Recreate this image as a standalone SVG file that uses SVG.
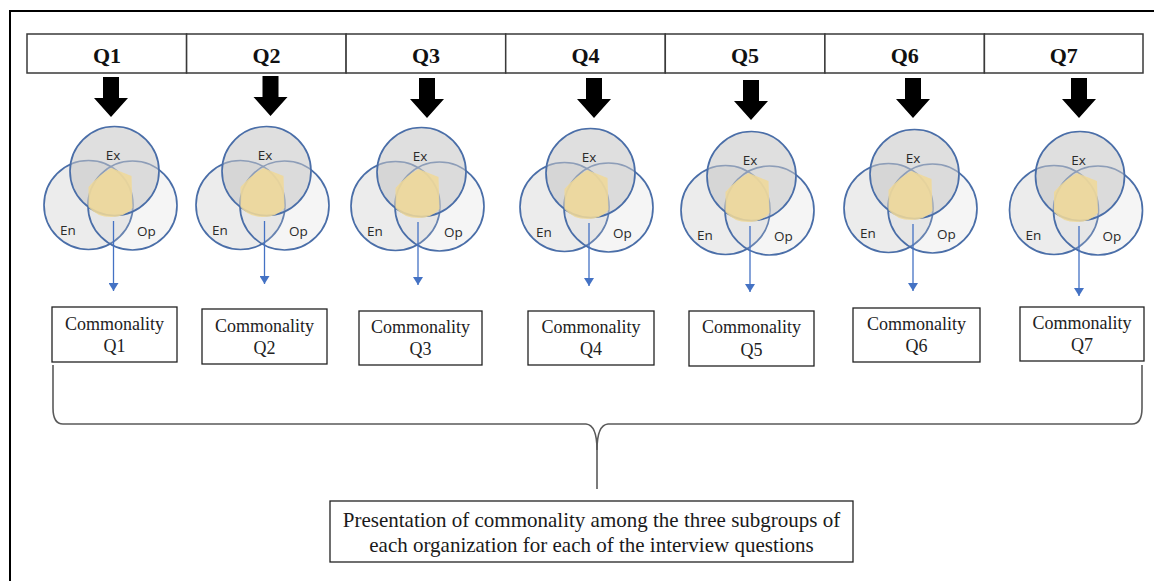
<svg xmlns="http://www.w3.org/2000/svg" xmlns:xlink="http://www.w3.org/1999/xlink" width="1154" height="581" viewBox="0 0 1154 581">
  <style>
    .frame { fill: none; stroke: #000; stroke-width: 2; }
    .cell { fill: #fff; stroke: #3a3a3a; stroke-width: 1.5; }
    .qlabel { font-family: "Liberation Serif", "Times New Roman", serif; font-size: 22px; font-weight: bold; fill: #111; text-anchor: middle; }
    .box { fill: #fff; stroke: #222; stroke-width: 1.3; }
    .boxtext { font-family: "Liberation Serif", "Times New Roman", serif; font-size: 18px; fill: #222; text-anchor: middle; }
    .sumtext { font-family: "Liberation Serif", "Times New Roman", serif; font-size: 21px; fill: #1a1a1a; text-anchor: middle; }
    .vlabel { font-family: "Open Sans", "Liberation Sans", Arial, sans-serif; font-size: 13.5px; fill: #2a2a2a; text-anchor: middle; }
    .set { stroke: #4a6ea8; stroke-width: 1.7; }
    .block { fill: #000; }
    .flow { fill: none; stroke: #4472c4; stroke-width: 1.3; }
    .brace { fill: none; stroke: #5a5a5a; stroke-width: 1.6; }
  </style>
  <defs>
    <!-- Three-set Venn, origin at the centre of the top (Ex) circle -->
    <g id="venn">
      <circle class="set" cx="-26" cy="34" r="44.5" fill="#d4d4d4" fill-opacity="0.45"/>
      <circle class="set" cx="18" cy="34.5" r="44.5" fill="#d0d0d0" fill-opacity="0.22"/>
      <circle class="set" cx="0" cy="0" r="44.5" fill="#c4c4c4" fill-opacity="0.55"/>
      <path d="M-3,-3 L17,5 L18,37 Q10,46 -3,46 Q-18,46 -26,36 L-26,16 Q-16,4 -3,-3 Z" fill="#efd899" fill-opacity="0.88"/>
      <text class="vlabel" x="-1.5" y="-11">Ex</text>
      <text class="vlabel" x="-46.5" y="64">En</text>
      <text class="vlabel" x="32" y="65">Op</text>
    </g>
    <marker id="tip" viewBox="0 0 8 10" refX="8" refY="5" markerWidth="8" markerHeight="10" markerUnits="userSpaceOnUse" orient="auto">
      <path d="M0,0 L8,5 L0,10 Z" fill="#4472c4"/>
    </marker>
  </defs>

  <rect x="0" y="0" width="1154" height="581" fill="#fff"/>

  <!-- page frame -->
  <path class="frame" d="M10,581 L10,11 L1154,11"/>

  <!-- question header row -->
  <g id="header">
    <g id="q1"><rect class="cell" x="27" y="34" width="159.6" height="39"/><text class="qlabel" x="107" y="63">Q1</text></g>
    <g id="q2"><rect class="cell" x="186.6" y="34" width="159.5" height="39"/><text class="qlabel" x="266.5" y="63">Q2</text></g>
    <g id="q3"><rect class="cell" x="346.1" y="34" width="159.6" height="39"/><text class="qlabel" x="426" y="63">Q3</text></g>
    <g id="q4"><rect class="cell" x="505.7" y="34" width="159.6" height="39"/><text class="qlabel" x="585.5" y="63">Q4</text></g>
    <g id="q5"><rect class="cell" x="665.3" y="34" width="159.6" height="39"/><text class="qlabel" x="745" y="63">Q5</text></g>
    <g id="q6"><rect class="cell" x="824.9" y="34" width="159.5" height="39"/><text class="qlabel" x="904.7" y="63">Q6</text></g>
    <g id="q7"><rect class="cell" x="984.4" y="34" width="158.6" height="39"/><text class="qlabel" x="1063.7" y="63">Q7</text></g>
  </g>

  <!-- Venn diagrams per question -->
  <g id="venn-q1"><use xlink:href="#venn" href="#venn" transform="translate(114.5,171)"/></g>
  <g id="venn-q2"><use xlink:href="#venn" href="#venn" transform="translate(266.5,171)"/></g>
  <g id="venn-q3"><use xlink:href="#venn" href="#venn" transform="translate(421.5,172)"/></g>
  <g id="venn-q4"><use xlink:href="#venn" href="#venn" transform="translate(590.5,173)"/></g>
  <g id="venn-q5"><use xlink:href="#venn" href="#venn" transform="translate(751.5,176)"/></g>
  <g id="venn-q6"><use xlink:href="#venn" href="#venn" transform="translate(914.5,174)"/></g>
  <g id="venn-q7"><use xlink:href="#venn" href="#venn" transform="translate(1080,176)"/></g>

  <!-- commonality boxes -->
  <g id="common-q1"><rect class="box" x="52" y="307" width="125" height="55"/><text class="boxtext" x="114.5" y="330">Commonality</text><text class="boxtext" x="114.5" y="352">Q1</text></g>
  <g id="common-q2"><rect class="box" x="202" y="309" width="125" height="55"/><text class="boxtext" x="264.5" y="332">Commonality</text><text class="boxtext" x="264.5" y="354">Q2</text></g>
  <g id="common-q3"><rect class="box" x="359" y="311" width="123" height="54"/><text class="boxtext" x="420.5" y="333">Commonality</text><text class="boxtext" x="420.5" y="355">Q3</text></g>
  <g id="common-q4"><rect class="box" x="528" y="311" width="126" height="54"/><text class="boxtext" x="591" y="333">Commonality</text><text class="boxtext" x="591" y="355">Q4</text></g>
  <g id="common-q5"><rect class="box" x="689" y="311" width="125" height="55"/><text class="boxtext" x="751.5" y="333">Commonality</text><text class="boxtext" x="751.5" y="356">Q5</text></g>
  <g id="common-q6"><rect class="box" x="853" y="308" width="127" height="54"/><text class="boxtext" x="916.5" y="330">Commonality</text><text class="boxtext" x="916.5" y="352">Q6</text></g>
  <g id="common-q7"><rect class="box" x="1020" y="307" width="124" height="54"/><text class="boxtext" x="1082" y="329">Commonality</text><text class="boxtext" x="1082" y="351">Q7</text></g>

  <!-- summary -->
  <g id="summary">
    <rect class="box" x="330" y="501" width="523" height="61"/>
    <text class="sumtext" x="591.5" y="527">Presentation of commonality among the three subgroups of</text>
    <text class="sumtext" x="591.5" y="552">each organization for each of the interview questions</text>
  </g>

  <g id="connectors">
    <!-- block arrows: header to Venn -->
    <path class="block" d="M103,77 h16 v21 h9 l-17,19 l-17,-19 h9 Z"/>
    <path class="block" d="M262.5,76 h16 v21 h9 l-17,19 l-17,-19 h9 Z"/>
    <path class="block" d="M419,78 h16 v21 h9 l-17,19 l-17,-19 h9 Z"/>
    <path class="block" d="M586,78 h16 v21 h9 l-17,19 l-17,-19 h9 Z"/>
    <path class="block" d="M743,80 h16 v21 h9 l-17,19 l-17,-19 h9 Z"/>
    <path class="block" d="M905,78 h16 v21 h9 l-17,19 l-17,-19 h9 Z"/>
    <path class="block" d="M1071,78 h16 v21 h9 l-17,19 l-17,-19 h9 Z"/>
    <!-- Venn to commonality -->
    <path class="flow" marker-end="url(#tip)" d="M113.5,221 V291"/>
    <path class="flow" marker-end="url(#tip)" d="M264.5,221 V284"/>
    <path class="flow" marker-end="url(#tip)" d="M418,222 V285"/>
    <path class="flow" marker-end="url(#tip)" d="M589,223 V286"/>
    <path class="flow" marker-end="url(#tip)" d="M750,226 V292"/>
    <path class="flow" marker-end="url(#tip)" d="M913,224 V291"/>
    <path class="flow" marker-end="url(#tip)" d="M1079,226 V296"/>
    <!-- brace gathering all commonalities -->
    <path class="brace" d="M53,365 V408 Q53,424 63,424 H586 Q597,425 597,450 V489"/>
    <path class="brace" d="M1142,365 V408 Q1142,424 1132,424 H608 Q597,425 597,450"/>
  </g>
</svg>
